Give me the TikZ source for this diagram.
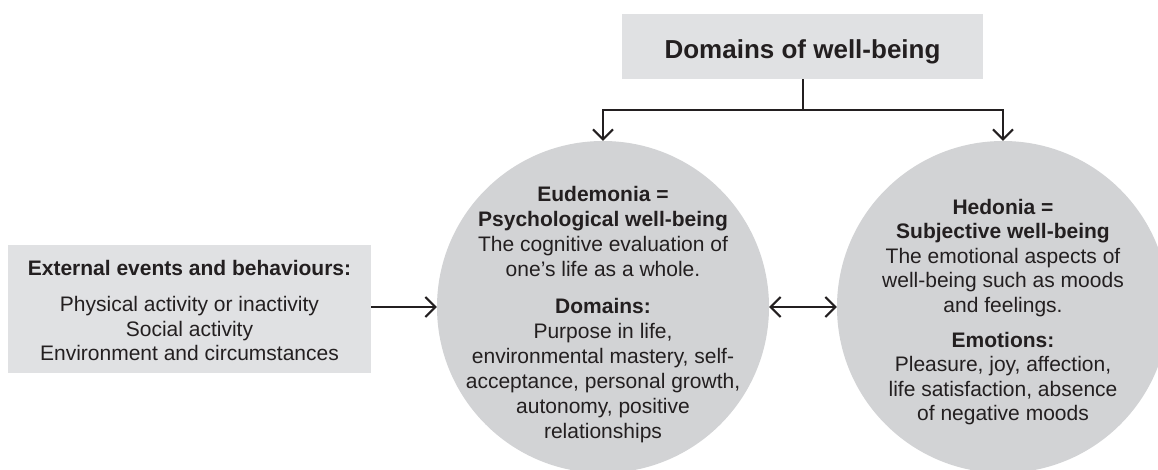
\documentclass[tikz,border=0pt]{standalone}
\usepackage{fontspec}
\setmainfont{Liberation Sans}
\usetikzlibrary{arrows.meta}
\definecolor{boxgray}{RGB}{224,225,227}
\definecolor{circgray}{RGB}{210,211,213}
\definecolor{ink}{RGB}{35,31,32}
\tikzset{
  graybox/.style={fill=boxgray, draw=none, inner sep=0pt},
  bubble/.style={circle, fill=circgray, draw=none, inner sep=0pt, minimum size=332pt},
  txt/.style={align=center, text=ink, inner sep=0pt, font=\fontsize{21}{24.5}\selectfont},
  arr/.style={draw=ink, line width=2pt, -{Straight Barb[length=10pt,width=20pt]}},
  darr/.style={draw=ink, line width=2pt, {Straight Barb[length=10pt,width=20pt]}-{Straight Barb[length=10pt,width=20pt]}},
  ln/.style={draw=ink, line width=2pt}
}
\begin{document}
\begin{tikzpicture}[x=1pt,y=-1pt]
\clip (0,0) rectangle (1158,469);
\fill[white] (0,0) rectangle (1158,469);
% top box
\node[graybox, minimum width=361pt, minimum height=65pt] (top) at (802.5,46.5) {};
\node[txt, font=\fontsize{26}{30}\selectfont\bfseries] (toptxt) at (802.5,52) {Domains of well-being};
% circles
\node[bubble] (eud) at (603,307) {};
\node[bubble] (hed) at (1003,307) {};
\node[txt, font=\fontsize{21}{25}\selectfont] (eudtxt) at (603,314.5) {\textbf{Eudemonia =}\\ \textbf{Psychological well-being}\\ The cognitive evaluation of\\ one’s life as a whole.\\[12pt] \textbf{Domains:}\\ Purpose in life,\\ environmental mastery, self-\\ acceptance, personal growth,\\ autonomy, positive\\ relationships};
\node[txt] (hedtxt) at (1003,312) {\textbf{Hedonia =}\\ \textbf{Subjective well-being}\\ The emotional aspects of\\ well-being such as moods\\ and feelings.\\[10.5pt] \textbf{Emotions:}\\ Pleasure, joy, affection,\\ life satisfaction, absence\\ of negative moods};
% left box
\node[graybox, minimum width=363pt, minimum height=128pt] (ext) at (189.5,309) {};
\node[txt] (exttxt) at (189.5,310.5) {\textbf{External events and behaviours:}\\[12pt] Physical activity or inactivity\\ Social activity\\ Environment and circumstances};
% connectors
\coordinate (j) at (802.5,110);
\draw[arr] (top.south) -- (j) -| (eud.north);
\draw[arr] (j) -| (hed.north);
\draw[arr] (ext.east |- eud.west) -- (eud.west);
\draw[darr] (eud.east) -- (hed.west);
\end{tikzpicture}
\end{document}
